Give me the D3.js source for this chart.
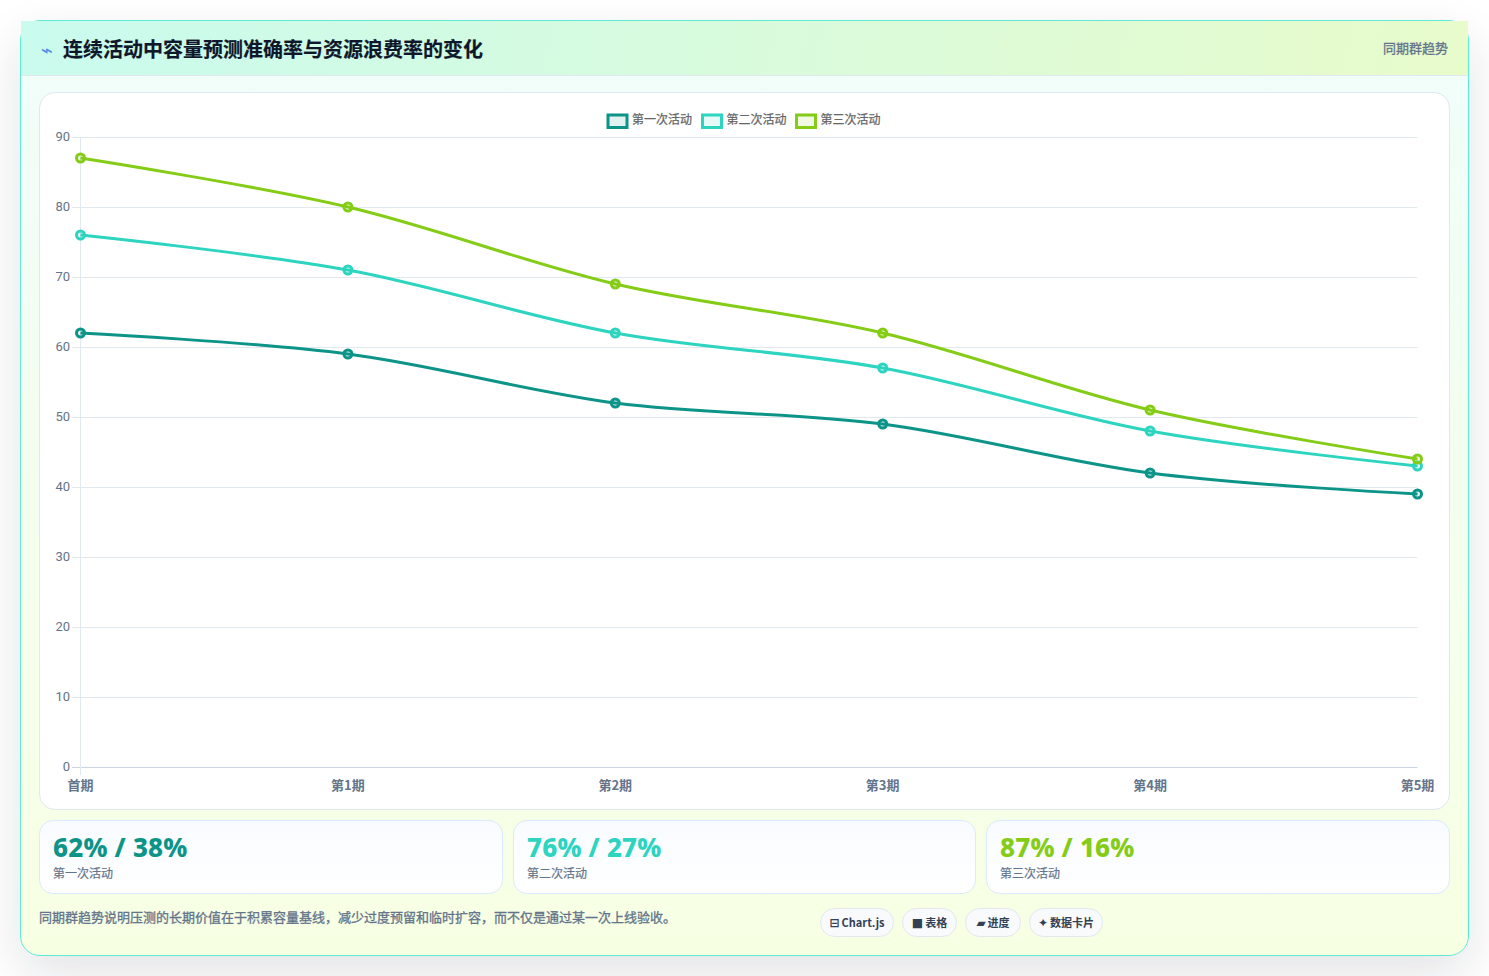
<!DOCTYPE html>
<html lang="zh"><head><meta charset="utf-8">
<script src="https://cdn.jsdelivr.net/npm/d3@7"></script>
<style>
*{box-sizing:border-box}
html,body{margin:0;padding:0;width:1489px;height:976px;overflow:hidden;background:#fff;font-family:"Noto Sans CJK SC","Noto Sans",sans-serif}
#card{position:absolute;left:20px;top:20px;width:1449px;height:936px;border:1px solid #5eead4;border-radius:20px;background:linear-gradient(180deg,#f0fdfa 0%,#f7ffe3 100%);box-shadow:0 18px 50px rgba(15,23,42,.12)}
#head{position:absolute;left:0;top:0;width:1447px;height:55px;background:linear-gradient(100deg,#c9fbee 0%,#e8fbcb 100%);border-bottom:1px solid #e2e8f0}
#ttl{position:absolute;left:41px;top:34px;font-size:20px;font-weight:700;color:#0f172a;line-height:30px;white-space:nowrap;-webkit-text-stroke:.2px #0f172a}
#ttl .i{font-size:20px;color:#2563eb;opacity:.75;font-family:"DejaVu Sans";margin-right:10px;font-weight:400;-webkit-text-stroke:0}
#sub{position:absolute;right:41px;top:38px;font-size:13px;color:#64748b;line-height:20px;-webkit-text-stroke:.3px #64748b}
#panel{position:absolute;left:39px;top:92px;width:1411px;height:718px;background:#fff;border:1px solid #e2e8f0;border-radius:16px}
svg{position:absolute;left:0;top:0}
.stat{position:absolute;top:820px;height:74px;border:1px solid #dbeafe;border-radius:14px;background:linear-gradient(180deg,#f8fbff,#fff)}
.stat b{position:absolute;left:13px;top:8px;font:800 26px/36px "Noto Sans",sans-serif;letter-spacing:.2px;white-space:nowrap}
.stat span{position:absolute;left:13px;top:43px;font-size:12px;line-height:18px;color:#64748b;-webkit-text-stroke:.2px #64748b}
#note{position:absolute;left:39px;top:907px;font-size:13px;line-height:20px;color:#64748b;white-space:nowrap;-webkit-text-stroke:.3px #64748b}
.pill{position:absolute;top:908px;height:29px;border:1px solid #e2e8f0;border-radius:15px;background:#f8fafc;font-size:11px;font-weight:700;color:#334155;line-height:27px;text-align:center;white-space:nowrap}
.pill i{font-style:normal;font-family:"DejaVu Sans";font-size:12px;margin-right:2px}
</style></head><body>
<div id="card"><div id="head"></div></div>
<div id="ttl"></div><div id="sub"></div>
<div id="panel"></div>
<div id="stats"></div><div id="note"></div><div id="pills"></div>
<svg id="chart" width="1489" height="976"></svg>
<script>
const titleText = "连续活动中容量预测准确率与资源浪费率的变化";
const titleIcon = "⌁";
const subtitle = "同期群趋势";
const categories = ["首期","第1期","第2期","第3期","第4期","第5期"];
const seriesNames = ["第一次活动","第二次活动","第三次活动"];
const seriesColors = ["#0d9488","#2dd4bf","#84cc16"];
const first = [62,59,52,49,42,39];
const second = [76,71,62,57,48,43];
const third = [87,80,69,62,51,44];
const yTicks = [0,10,20,30,40,50,60,70,80,90];
const statTexts = ["62% / 38%","76% / 27%","87% / 16%"];
const noteText = "同期群趋势说明压测的长期价值在于积累容量基线，减少过度预留和临时扩容，而不仅是通过某一次上线验收。";
const pillIcons = ["⊟","■","▰","✦"];
const pillTexts = ["Chart.js","表格","进度","数据卡片"];

const layout = {x0:80.5,x1:1417.5,y0:767,y1:137};
const x = d3.scalePoint().domain(categories).range([layout.x0,layout.x1]);
const y = d3.scaleLinear().domain([0,90]).range([layout.y0,layout.y1]);

d3.select("#ttl").html("").call(s=>{s.append("span").attr("class","i").text(titleIcon);s.append("span").text(titleText)});
d3.select("#sub").text(subtitle);
d3.select("#note").text(noteText);

const statX=[39,513,986], statW=[464,463,464];
d3.select("#stats").selectAll("div").data(statTexts).join("div").attr("class","stat")
 .style("left",(d,i)=>statX[i]+"px").style("width",(d,i)=>statW[i]+"px")
 .each(function(d,i){const s=d3.select(this);
  s.append("b").style("color",seriesColors[i]).text(d);
  s.append("span").text(seriesNames[i]);});

const pillX=[820,902,965,1029],pillW=[74,55,56,74];
d3.select("#pills").selectAll("div").data(pillTexts).join("div").attr("class","pill")
 .style("left",(d,i)=>pillX[i]+"px").style("width",(d,i)=>pillW[i]+"px")
 .each(function(d,i){const s=d3.select(this);s.append("i").text(pillIcons[i]);s.append("span").text(d);});

const svg=d3.select("#chart");
const tickFont='Roboto,"Liberation Sans",sans-serif';
svg.append("g").selectAll("line").data(yTicks).join("line")
 .attr("x1",72).attr("x2",layout.x1).attr("y1",d=>y(d)+.5).attr("y2",d=>y(d)+.5)
 .attr("stroke",d=>d===0?"#cbd5e1":"#e2e8f0").attr("stroke-width",1);
svg.append("line").attr("x1",80.5).attr("x2",80.5).attr("y1",layout.y1).attr("y2",layout.y0+8).attr("stroke","#e2e8f0");
svg.append("g").selectAll("text").data(yTicks).join("text")
 .attr("x",70).attr("y",d=>y(d)+3.5).attr("text-anchor","end")
 .attr("font-family",tickFont).attr("font-size",13).attr("fill","#64748b").text(d=>d);
svg.append("g").selectAll("text").data(categories).join("text")
 .attr("x",d=>x(d)).attr("y",790).attr("text-anchor","middle")
 .attr("font-family",'"Noto Sans CJK SC",sans-serif').attr("font-size",13).attr("font-weight",700).attr("fill","#64748b").text(d=>d);

const legX=[607,701.5,795.5];
const leg=svg.append("g").selectAll("g").data(seriesNames).join("g").attr("transform",(d,i)=>`translate(${legX[i]},114)`);
leg.append("rect").attr("x",1).attr("y",1).attr("width",19).attr("height",12.5)
 .attr("fill",(d,i)=>seriesColors[i]).attr("fill-opacity",.12).attr("stroke",(d,i)=>seriesColors[i]).attr("stroke-width",3);
leg.append("text").attr("x",25).attr("y",10).attr("font-size",12).attr("fill","#666").attr("stroke","#666").attr("stroke-width",.25)
 .attr("font-family",'"Noto Sans CJK SC",sans-serif').text(d=>d);

const all=[first,second,third];
const line=d3.line().x((d,i)=>x(categories[i])).y(d=>y(d)).curve(d3.curveCardinal.tension(0));
const g=svg.append("g").selectAll("g").data(all).join("g");
g.append("path").attr("d",d=>line(d)).attr("fill","none").attr("stroke-width",3)
 .attr("stroke",(d,i)=>seriesColors[i]);
g.each(function(vals,si){
 d3.select(this).selectAll("circle").data(vals).join("circle")
  .attr("cx",(d,i)=>x(categories[i])).attr("cy",d=>y(d)).attr("r",4)
  .attr("fill",seriesColors[si]).attr("fill-opacity",.12).attr("stroke",seriesColors[si]).attr("stroke-width",3);
});
</script></body></html>
